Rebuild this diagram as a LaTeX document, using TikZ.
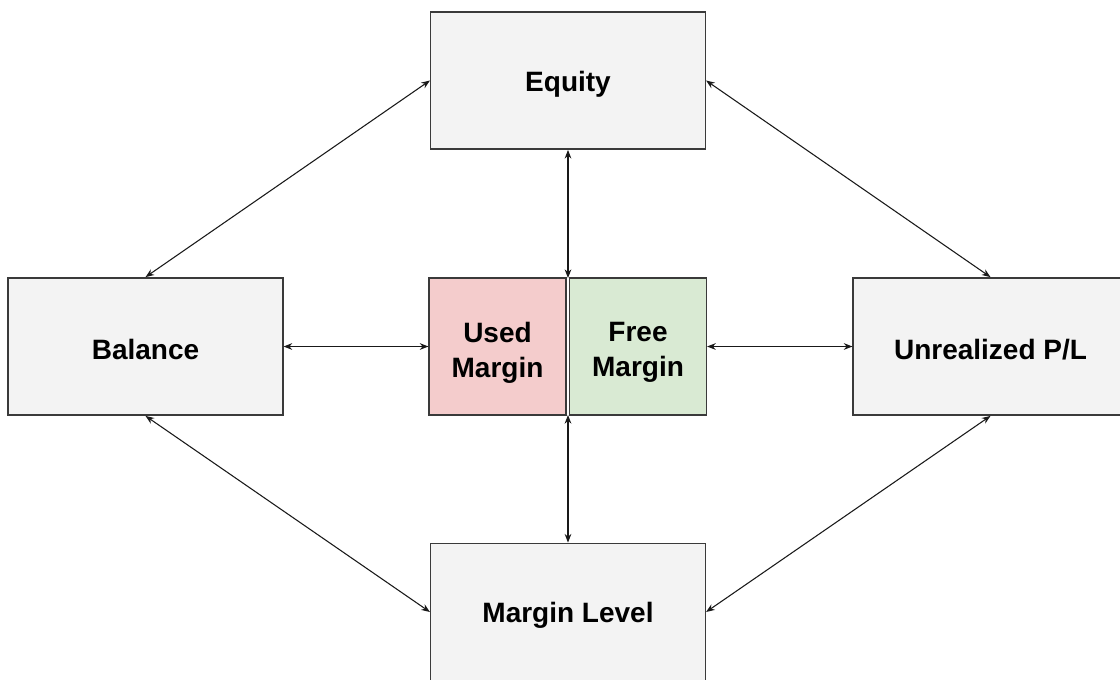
\documentclass[tikz,border=0pt]{standalone}
\usepackage{fontspec}
\setmainfont{Liberation Sans}
\usetikzlibrary{arrows.meta}
\definecolor{boxgray}{HTML}{F3F3F3}
\definecolor{usedred}{HTML}{F4CCCC}
\definecolor{freegreen}{HTML}{D9EAD3}
\definecolor{edgegray}{HTML}{3A3A3A}
\tikzset{
  box/.style={draw=edgegray,line width=1.1pt,fill=boxgray,minimum width=206pt,minimum height=103pt,
    inner sep=0pt},
  halfbox/.style={box,minimum width=102.5pt},
  boxtext/.style={inner sep=0pt,align=center,yshift=-2.5pt,font=\fontsize{21}{26}\selectfont\bfseries},
  pairtext/.style={boxtext,yshift=-2pt},
  link/.style={{Stealth[length=6.5pt,width=5pt]}-{Stealth[length=6.5pt,width=5pt]},line width=0.8pt,black!90}
}
\begin{document}
\begin{tikzpicture}[x=0.75pt,y=-0.75pt]
  \useasboundingbox (0,0) rectangle (1120,679);
  \clip (0,0) rectangle (1120,679);

  \node[box,label={[boxtext]center:Equity}] (equity) at (568,80.5) {};
  \node[box,label={[boxtext]center:Balance}] (balance) at (145.5,346.5) {};
  \node[box,label={[boxtext]center:Unrealized P/L}] (upl) at (990.5,346.5) {};
  \node[box,label={[boxtext]center:Margin Level}] (level) at (568,612) {};
  \node[halfbox,fill=usedred,label={[pairtext]center:{Used\\Margin}}] (used) at (497.5,346.5) {};
  \node[halfbox,fill=freegreen,label={[pairtext]center:{Free\\Margin}}] (free) at (638,346.5) {};

  \coordinate (midtop) at (568,278);
  \coordinate (midbot) at (568,415);

  \draw[link] (equity.west) -- (balance.north);
  \draw[link] (equity.east) -- (upl.north);
  \draw[link] (equity.south) -- (midtop);
  \draw[link] (balance.east) -- (used.west);
  \draw[link] (free.east) -- (upl.west);
  \draw[link] (balance.south) -- (level.west);
  \draw[link] (upl.south) -- (level.east);
  \draw[link] (midbot) -- (level.north);
\end{tikzpicture}
\end{document}
